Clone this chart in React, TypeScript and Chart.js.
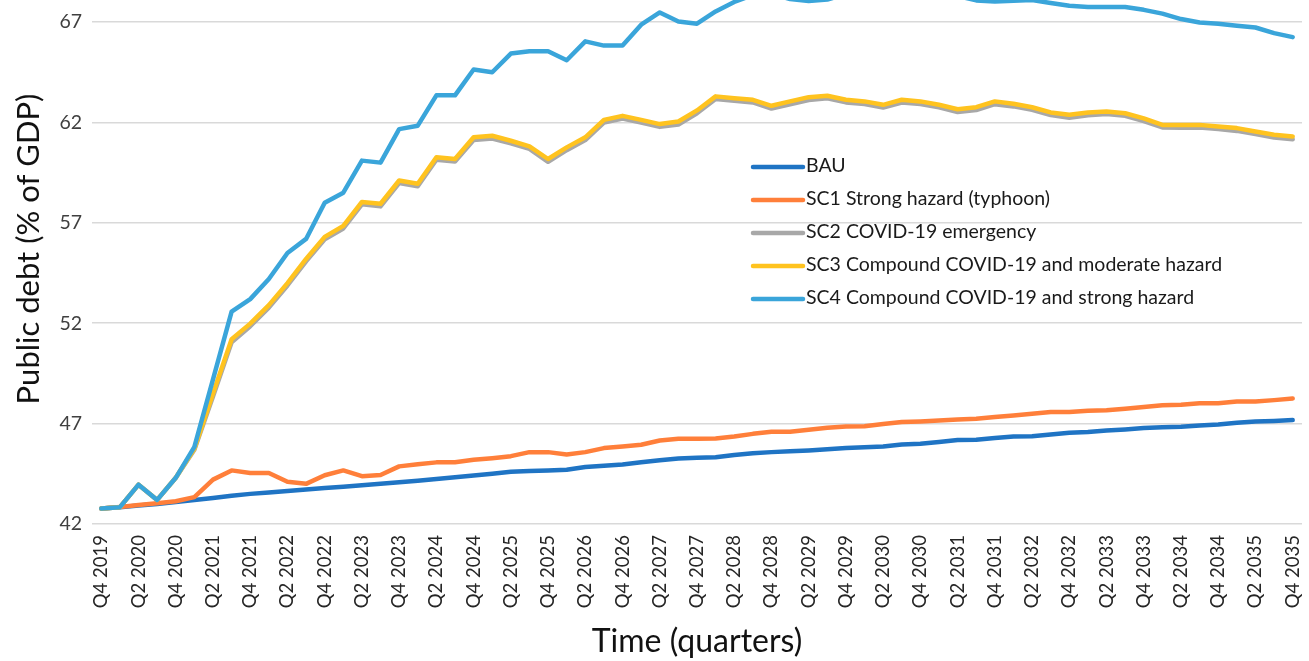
import React, { useEffect, useRef } from "react";
import { Chart, registerables } from "chart.js";

Chart.register(...registerables);

const quarters = [
  "Q4 2019",
  "Q1 2020", "Q2 2020", "Q3 2020", "Q4 2020",
  "Q1 2021", "Q2 2021", "Q3 2021", "Q4 2021",
  "Q1 2022", "Q2 2022", "Q3 2022", "Q4 2022",
  "Q1 2023", "Q2 2023", "Q3 2023", "Q4 2023",
  "Q1 2024", "Q2 2024", "Q3 2024", "Q4 2024",
  "Q1 2025", "Q2 2025", "Q3 2025", "Q4 2025",
  "Q1 2026", "Q2 2026", "Q3 2026", "Q4 2026",
  "Q1 2027", "Q2 2027", "Q3 2027", "Q4 2027",
  "Q1 2028", "Q2 2028", "Q3 2028", "Q4 2028",
  "Q1 2029", "Q2 2029", "Q3 2029", "Q4 2029",
  "Q1 2030", "Q2 2030", "Q3 2030", "Q4 2030",
  "Q1 2031", "Q2 2031", "Q3 2031", "Q4 2031",
  "Q1 2032", "Q2 2032", "Q3 2032", "Q4 2032",
  "Q1 2033", "Q2 2033", "Q3 2033", "Q4 2033",
  "Q1 2034", "Q2 2034", "Q3 2034", "Q4 2034",
  "Q1 2035", "Q2 2035", "Q3 2035", "Q4 2035",
];

const bau = [
  42.77, 42.84, 42.92, 43.0, 43.1, 43.2, 43.3, 43.41, 43.5, 43.57,
  43.64, 43.72, 43.79, 43.86, 43.93, 44.0, 44.08, 44.15, 44.24, 44.33,
  44.42, 44.5, 44.6, 44.64, 44.66, 44.7, 44.84, 44.9, 44.96, 45.08,
  45.18, 45.26, 45.3, 45.32, 45.44, 45.52, 45.58, 45.62, 45.66, 45.72,
  45.78, 45.82, 45.86, 45.96, 46.0, 46.08, 46.18, 46.2, 46.28, 46.36,
  46.37, 46.46, 46.54, 46.58, 46.66, 46.71, 46.78, 46.82, 46.84, 46.91,
  46.96, 47.04, 47.1, 47.13, 47.18,
];

const sc1 = [
  42.77, 42.85, 42.95, 43.03, 43.13, 43.34, 44.21, 44.67, 44.54, 44.54,
  44.1, 44.0, 44.43, 44.67, 44.38, 44.44, 44.87, 44.98, 45.07, 45.08,
  45.2, 45.28, 45.38, 45.58, 45.58, 45.46, 45.58, 45.78, 45.86, 45.95,
  46.16, 46.25, 46.25, 46.26, 46.36, 46.49, 46.59, 46.6, 46.69, 46.79,
  46.86, 46.87, 46.98, 47.08, 47.11, 47.16, 47.21, 47.24, 47.33, 47.41,
  47.49, 47.58, 47.58, 47.64, 47.66, 47.74, 47.83, 47.91, 47.94, 48.02,
  48.02, 48.1, 48.1, 48.17, 48.25,
];

const sc2 = [
  42.77, 42.84, 43.96, 43.2, 44.3, 45.7, 48.35, 51.05, 51.85, 52.78,
  53.88, 55.08, 56.18, 56.72, 57.92, 57.82, 58.98, 58.82, 60.14, 60.05,
  61.13, 61.2, 60.96, 60.68, 60.04, 60.62, 61.12, 61.99, 62.2, 62.0,
  61.78, 61.9, 62.46, 63.17, 63.08, 63.0, 62.69, 62.9, 63.12, 63.2,
  63.0, 62.92, 62.74, 62.99, 62.92, 62.75, 62.52, 62.62, 62.91, 62.8,
  62.63, 62.37, 62.24, 62.36, 62.42, 62.33, 62.07, 61.75, 61.74, 61.75,
  61.67, 61.58, 61.42, 61.25, 61.16,
];

const sc3 = [
  42.77, 42.84, 43.96, 43.2, 44.3, 45.75, 48.5, 51.2, 51.98, 52.9,
  54.0, 55.2, 56.3, 56.85, 58.04, 57.95, 59.11, 58.95, 60.27, 60.18,
  61.26, 61.34, 61.09, 60.81, 60.18, 60.76, 61.26, 62.13, 62.33, 62.13,
  61.92, 62.05, 62.6, 63.3, 63.21, 63.13, 62.83, 63.05, 63.26, 63.33,
  63.13, 63.05, 62.88, 63.13, 63.05, 62.88, 62.66, 62.76, 63.05, 62.93,
  62.76, 62.5, 62.38, 62.5, 62.55, 62.46, 62.2, 61.88, 61.88, 61.88,
  61.8, 61.72, 61.55, 61.39, 61.3,
];

const sc4 = [
  42.77, 42.84, 43.96, 43.2, 44.3, 45.84, 49.2, 52.58, 53.2, 54.2,
  55.5, 56.2, 58.0, 58.5, 60.1, 60.0, 61.67, 61.84, 63.35, 63.35,
  64.64, 64.5, 65.43, 65.55, 65.55, 65.1, 66.04, 65.83, 65.83, 66.87,
  67.48, 67.03, 66.92, 67.53, 68.0, 68.35, 68.4, 68.15, 68.05, 68.12,
  68.4, 68.45, 68.45, 68.5, 68.5, 68.45, 68.3, 68.08, 68.02, 68.06,
  68.1, 67.95, 67.81, 67.75, 67.75, 67.75, 67.61, 67.42, 67.15, 66.98,
  66.92, 66.82, 66.73, 66.45, 66.25,
];

const yTicks = [42, 47, 52, 57, 62, 67];

const seriesNames = [
  "BAU",
  "SC1 Strong hazard (typhoon)",
  "SC2 COVID-19 emergency",
  "SC3 Compound COVID-19 and moderate hazard",
  "SC4 Compound COVID-19 and strong hazard",
];
const seriesColors = ["#1f74c4", "#ff7f3a", "#a8a8a8", "#ffc31f", "#3aa5da"];
const seriesData = [bau, sc1, sc2, sc3, sc4];

const yTitle = "Public debt (% of GDP)";
const xTitle = "Time (quarters)";

const FONT = "Lato, 'Open Sans', sans-serif";

const insideLegend = {
  id: "insideLegend",
  afterDatasetsDraw(chart: any, _args: any, opts: any) {
    const { ctx } = chart;
    ctx.save();
    chart.data.datasets.forEach((ds: any, i: number) => {
      const y = opts.y + i * opts.spacing;
      ctx.strokeStyle = ds.borderColor;
      ctx.lineWidth = opts.lineWidth;
      ctx.lineCap = "round";
      ctx.beginPath();
      ctx.moveTo(opts.x, y);
      ctx.lineTo(opts.x + opts.swatch, y);
      ctx.stroke();
      ctx.fillStyle = opts.color;
      ctx.font = opts.font;
      ctx.textAlign = "left";
      ctx.textBaseline = "middle";
      ctx.fillText(ds.label, opts.x + opts.swatch + opts.gap, y + opts.textDy);
    });
    ctx.restore();
  },
};

const yAxisTitle = {
  id: "yAxisTitle",
  afterDraw(chart: any, _args: any, opts: any) {
    const { ctx } = chart;
    ctx.save();
    ctx.translate(opts.x, opts.y);
    ctx.rotate(-Math.PI / 2);
    ctx.fillStyle = opts.color;
    ctx.font = opts.font;
    ctx.textAlign = "center";
    ctx.textBaseline = "middle";
    ctx.fillText(opts.text, 0, 0);
    ctx.restore();
  },
};

export default function App() {
  const canvasRef = useRef<HTMLCanvasElement | null>(null);

  useEffect(() => {
    if (!canvasRef.current) return;
    const chart = new Chart(canvasRef.current, {
      type: "line",
      data: {
        labels: quarters,
        datasets: seriesData.map((d, i) => ({
          label: seriesNames[i],
          data: d,
          borderColor: seriesColors[i],
          backgroundColor: seriesColors[i],
          borderWidth: 4.5,
          pointRadius: 0,
          pointHoverRadius: 0,
          tension: 0,
          fill: false,
          borderJoinStyle: "round" as const,
          borderCapStyle: "round" as const,
          order: seriesData.length - 1 - i,
        })),
      },
      options: {
        animation: false,
        responsive: true,
        maintainAspectRatio: false,
        layout: { padding: { left: 0, right: 7, top: 0, bottom: 0 } },
        plugins: {
          legend: { display: false },
          tooltip: { enabled: false },
          insideLegend: {
            x: 753,
            y: 167,
            spacing: 33,
            swatch: 50,
            gap: 3,
            lineWidth: 4.5,
            textDy: -1,
            color: "#1a1a1a",
            font: `19.5px ${FONT}`,
          },
          yAxisTitle: {
            x: 29,
            y: 249,
            text: yTitle,
            color: "#111111",
            font: `31px ${FONT}`,
          },
        } as any,
        scales: {
          x: {
            type: "category",
            offset: true,
            grid: { display: false, drawTicks: false },
            border: { display: false },
            ticks: {
              autoSkip: false,
              maxRotation: 90,
              minRotation: 90,
              padding: 11,
              color: "#262626",
              font: { family: FONT, size: 18.5 },
              callback: (_v: any, i: number) => (i % 2 === 0 ? quarters[i] : ""),
            },
            title: {
              display: true,
              text: xTitle,
              color: "#111111",
              font: { family: FONT, size: 32 },
              padding: { top: 0, bottom: 0 },
            },
            afterFit: (s: any) => {
              s.height = 137;
              s.paddingLeft = 0;
              s.paddingRight = 0;
            },
          },
          y: {
            min: 42,
            max: 68.1,
            afterBuildTicks: (s: any) => {
              s.ticks = yTicks.map((v) => ({ value: v }));
            },
            grid: { color: "#d9d9d9", lineWidth: 1.5, drawTicks: false },
            border: { display: false },
            ticks: {
              padding: 10,
              color: "#404040",
              font: { family: FONT, size: 19.5 },
            },
            title: { display: false },
            afterFit: (s: any) => {
              s.width = 92;
              s.paddingTop = 0;
              s.paddingBottom = 0;
            },
          },
        },
      },
      plugins: [insideLegend, yAxisTitle],
    });
    return () => chart.destroy();
  }, []);

  return (
    <div style={{ position: "fixed", left: 0, top: 0, width: 1309, height: 661, background: "#ffffff" }}>
      <canvas ref={canvasRef} />
    </div>
  );
}
